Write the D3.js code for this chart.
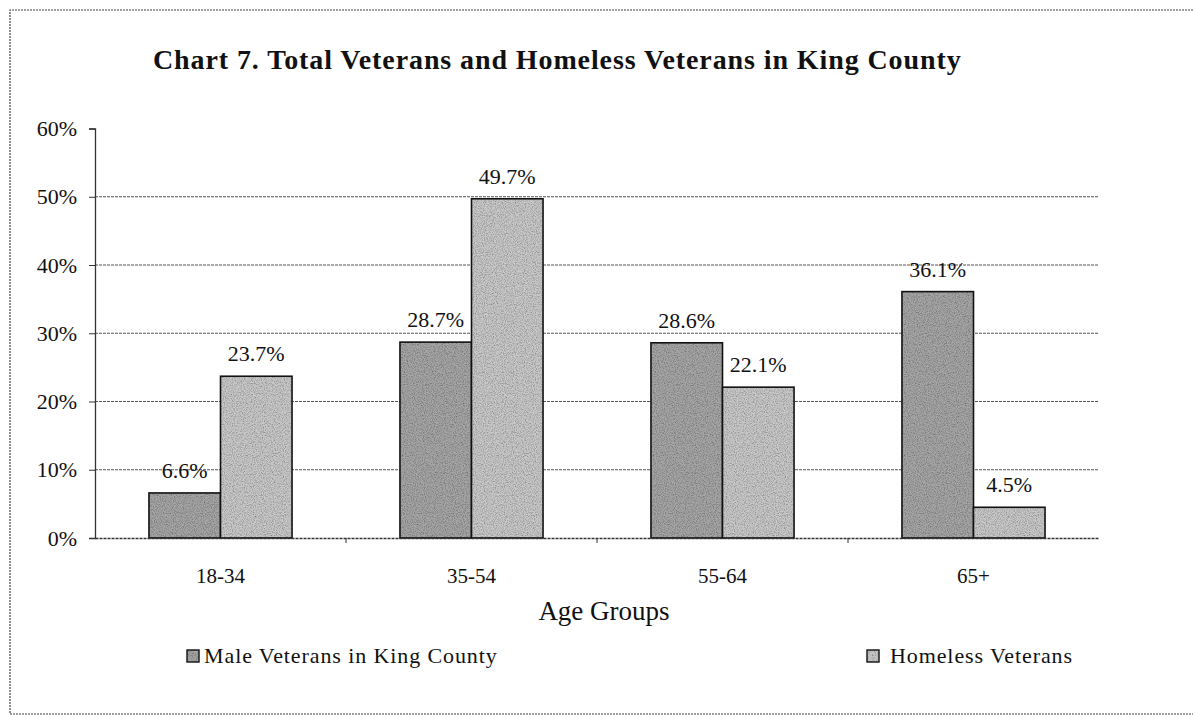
<!DOCTYPE html>
<html>
<head>
<meta charset="utf-8">
<script src="https://cdn.jsdelivr.net/npm/d3@7"></script>
<style>
  html, body { margin: 0; padding: 0; background: #fff; }
  svg { display: block; }
  text { font-family: "Liberation Serif", "Times New Roman", serif; fill: #111; }
</style>
</head>
<body>
<svg id="chart" width="1193" height="716"></svg>
<script>
const categories = ["18-34", "35-54", "55-64", "65+"];
const seriesNames = ["Male Veterans in King County", "Homeless Veterans"];
const maleValues = [6.6, 28.7, 28.6, 36.1];
const homelessValues = [23.7, 49.7, 22.1, 4.5];
const yTicks = [0, 10, 20, 30, 40, 50, 60];
const titleText = "Chart 7. Total Veterans and Homeless Veterans in King County";
const xAxisTitle = "Age Groups";

const seriesValues = [maleValues, homelessValues];
const seriesFill = ["#a6a6a6", "#c9c9c9"];

const svg = d3.select("#chart");

// grain filter to mimic the scanned texture
const defs = svg.append("defs");
const f = defs.append("filter").attr("id", "grain").attr("x", 0).attr("y", 0).attr("width", 1).attr("height", 1);
f.append("feTurbulence").attr("type", "fractalNoise").attr("baseFrequency", 0.9).attr("numOctaves", 2).attr("seed", 3).attr("result", "noise");
f.append("feColorMatrix").attr("in", "noise").attr("type", "matrix")
  .attr("values", "0 0 0 0 0  0 0 0 0 0  0 0 0 0 0  0 0 0 -1.2 0.75").attr("result", "dark");
f.append("feComposite").attr("in", "dark").attr("in2", "SourceGraphic").attr("operator", "in").attr("result", "darkIn");
f.append("feBlend").attr("in", "darkIn").attr("in2", "SourceGraphic").attr("mode", "multiply");

// outer frame (dotted, as in the scan)
svg.append("path")
  .attr("d", "M1193,10 H10 V714 H1193")
  .attr("fill", "none").attr("stroke", "#444").attr("stroke-width", 1.2)
  .attr("stroke-dasharray", "2,1");

// title
svg.append("text")
  .attr("x", 153).attr("y", 69)
  .attr("font-size", 28).attr("font-weight", "bold")
  .attr("letter-spacing", 0.9)
  .text(titleText);

const plotLeft = 95, plotRight = 1099, plotTop = 128.5, plotBottom = 538;

const x0 = d3.scaleBand().domain(categories).range([plotLeft, plotRight]).padding(0);
const groupW = x0.step() * 0.57;
const x1 = d3.scaleBand().domain(d3.range(seriesNames.length)).range([0, groupW]).padding(0);
const y = d3.scaleLinear().domain([0, 60]).range([plotBottom, plotTop]);

// gridlines
svg.append("g").selectAll("line").data(yTicks.filter(t => t > 0 && t < 60)).join("line")
  .attr("x1", plotLeft).attr("x2", plotRight)
  .attr("y1", d => y(d)).attr("y2", d => y(d))
  .attr("stroke", "#555").attr("stroke-width", 1).attr("stroke-dasharray", "3,1");

// y axis
const yAxis = d3.axisLeft(y).tickValues(yTicks).tickFormat(d => d + "%").tickSize(6).tickPadding(12);
const gy = svg.append("g").attr("transform", `translate(${plotLeft},0)`).call(yAxis);
gy.select(".domain").attr("stroke", "#333").attr("stroke-width", 1.3);
gy.selectAll(".tick line").attr("stroke", "#333");
gy.selectAll(".tick text").attr("font-size", 22).attr("font-family", "Liberation Serif, serif").attr("fill", "#222");

// bars
const groups = svg.append("g").selectAll("g").data(categories).join("g")
  .attr("transform", d => `translate(${x0(d) + (x0.bandwidth() - groupW) / 2},0)`);

groups.each(function(cat, ci) {
  const g = d3.select(this);
  seriesNames.forEach((s, si) => {
    const v = seriesValues[si][ci];
    g.append("rect")
      .attr("x", x1(si)).attr("y", y(v))
      .attr("width", x1.bandwidth()).attr("height", y(0) - y(v))
      .attr("fill", seriesFill[si]).attr("filter", "url(#grain)");
    g.append("rect")
      .attr("x", x1(si)).attr("y", y(v))
      .attr("width", x1.bandwidth()).attr("height", y(0) - y(v))
      .attr("fill", "none").attr("stroke", "#111").attr("stroke-width", 1.6);
    g.append("text")
      .attr("x", x1(si) + x1.bandwidth() / 2).attr("y", y(v) - 15)
      .attr("text-anchor", "middle").attr("font-size", 22)
      .text(v.toFixed(1) + "%");
  });
});

// x axis baseline
const xAxis = d3.axisBottom(x0).tickSize(0).tickPadding(0);
const gx = svg.append("g").attr("transform", `translate(0,${plotBottom})`).call(xAxis);
gx.select(".domain").attr("stroke", "#333").attr("stroke-width", 1.3).attr("stroke-dasharray", "3,1");
gx.selectAll(".tick text").remove();
// category labels
svg.append("g").selectAll("text").data(categories).join("text")
  .attr("x", d => x0(d) + x0.bandwidth() / 2).attr("y", 583)
  .attr("text-anchor", "middle").attr("font-size", 21)
  .text(d => d);
// minor ticks at category boundaries
svg.append("g").selectAll("line").data(categories.slice(1)).join("line")
  .attr("x1", d => x0(d)).attr("x2", d => x0(d))
  .attr("y1", plotBottom).attr("y2", plotBottom + 5)
  .attr("stroke", "#333");

// x axis title
svg.append("text")
  .attr("x", 604).attr("y", 620)
  .attr("text-anchor", "middle").attr("font-size", 27)
  .text(xAxisTitle);

// legend
const legendPos = [{sx: 187, tx: 204}, {sx: 867, tx: 890}];
seriesNames.forEach((s, si) => {
  const lg = svg.append("g");
  lg.append("rect").attr("x", legendPos[si].sx).attr("y", 650).attr("width", 12).attr("height", 12)
    .attr("fill", seriesFill[si]).attr("filter", "url(#grain)");
  lg.append("rect").attr("x", legendPos[si].sx).attr("y", 650).attr("width", 12).attr("height", 12)
    .attr("fill", "none").attr("stroke", "#111").attr("stroke-width", 1.4);
  lg.append("text").attr("x", legendPos[si].tx).attr("y", 663)
    .attr("font-size", 22).attr("letter-spacing", 0.9)
    .text(s);
});
</script>
</body>
</html>
